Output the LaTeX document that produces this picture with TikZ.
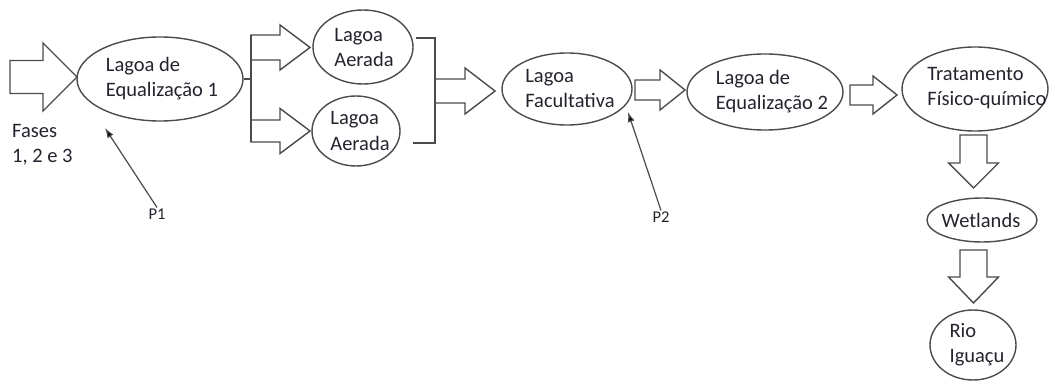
\documentclass[tikz,border=0pt]{standalone}
\usepackage{fontspec}
\setmainfont{Carlito}
\usetikzlibrary{shapes.geometric,arrows.meta}
\definecolor{ln}{RGB}{75,75,75}
\definecolor{tx}{RGB}{35,35,45}
\tikzset{
  lag/.style={ellipse, draw=ln, line width=1.4pt, inner sep=0pt},
  lbl/.style={align=left, text=tx, inner sep=0pt, font=\fontsize{20.5}{25}\selectfont},
  blk/.style={draw=ln, line width=1.4pt, fill=white, line join=miter},
  pl/.style={text=tx, inner sep=1pt, font=\fontsize{16.5}{18}\selectfont},
  pa/.style={draw=ln, line width=1.2pt, -{Latex[length=10pt,width=7pt,fill=black]}}
}
\newcommand\harr[6]{\draw[blk] (#1,#4-#5) -- (#2,#4-#5) -- (#2,#4-#6) -- (#3,#4) -- (#2,#4+#6) -- (#2,#4+#5) -- (#1,#4+#5) -- cycle;}
\newcommand\varr[6]{\draw[blk] (#4-#5,#1) -- (#4-#5,#2) -- (#4-#6,#2) -- (#4,#3) -- (#4+#6,#2) -- (#4+#5,#2) -- (#4+#5,#1) -- cycle;}
\begin{document}
\begin{tikzpicture}[x=1pt,y=-1pt]
\useasboundingbox (0,0) rectangle (1050,382);
% ellipses
\node[lag, minimum width=166pt, minimum height=84pt] (e1) at (160,79) {};
\node[lag, minimum width=100pt, minimum height=74pt] (a1) at (363,47) {};
\node[lag, minimum width=88pt, minimum height=70pt] (a2) at (356,131) {};
\node[lag, minimum width=130pt, minimum height=72pt] (fa) at (567,89) {};
\node[lag, minimum width=156pt, minimum height=76pt] (e2) at (765,92) {};
\node[lag, minimum width=146pt, minimum height=84pt] (tr) at (975,89) {};
\node[lag, minimum width=110pt, minimum height=44pt] (we) at (982,220) {};
\node[lag, minimum width=86pt, minimum height=70pt] (ri) at (973,345) {};
% texts
\node[lbl] (te1) at (162,79) {Lagoa de\\Equalização 1};
\node[lbl] (ta1) at (364,48) {Lagoa\\Aerada};
\node[lbl] (ta2) at (360,131) {Lagoa\\Aerada};
\node[lbl] (tfa) at (570,89) {Lagoa\\Facultativa};
\node[lbl] (te2) at (772,92) {Lagoa de\\Equalização 2};
\node[lbl] (ttr) at (987,88) {Tratamento\\Físico-químico};
\node[lbl] (twe) at (981,220) {Wetlands};
\node[lbl] (tri) at (977,345) {Rio\\Iguaçu};
\node[lbl, anchor=north west] (fases) at (12,124) {Fases\\1, 2 e 3};
% block arrows
\harr{10}{43}{77}{77}{16.5}{34}
\harr{251}{280}{310}{47.5}{12.5}{22.5}
\harr{251}{280}{310}{131}{11}{22.5}
\harr{435}{465}{495}{91}{12}{23}
\harr{635}{660}{685}{90}{10}{20}
\harr{850}{873}{897}{95}{10}{19}
\varr{135}{163}{188}{973.5}{13.5}{25}
\varr{250}{277}{303}{973.5}{13.5}{25}
% branch and bracket
\draw[ln, line width=1.4pt] (e1.east) -- (251,79);
\draw[ln, line width=1.4pt] (251,35) -- (251,142);
\draw[ln, line width=1.4pt] (416,38) -- (435,38) -- (435,143) -- (413,143);
% P labels and pointer arrows
\node[pl] (p1) at (157,214) {P1};
\node[pl] (p2) at (661,217) {P2};
\coordinate (t1) at (105,128);
\coordinate (t2) at (628,112);
\draw[pa] (p1.north) -- (t1);
\draw[pa] (p2.north) -- (t2);
\end{tikzpicture}
\end{document}
